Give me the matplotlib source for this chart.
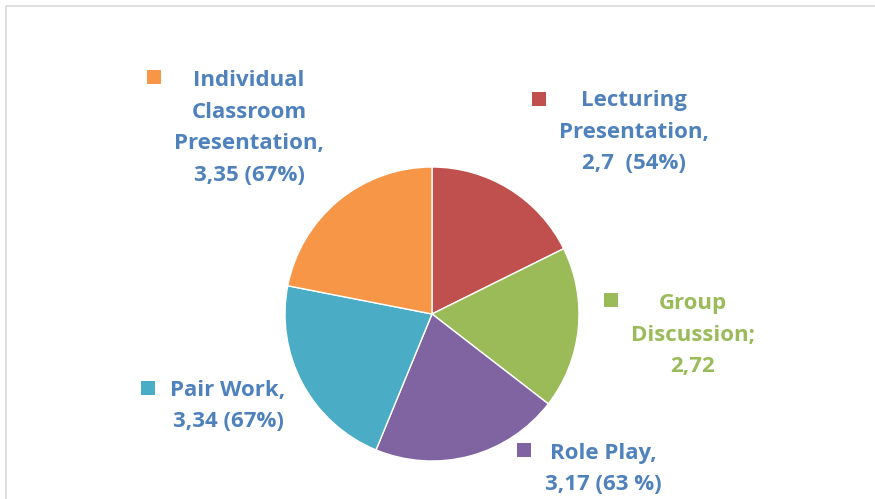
import matplotlib
matplotlib.use("Agg")
import matplotlib.pyplot as plt
from matplotlib.patches import Rectangle

categories = ["Lecturing Presentation", "Group Discussion", "Role Play",
              "Pair Work", "Individual Classroom Presentation"]
values = [2.70, 2.72, 3.17, 3.34, 3.35]
colors = ["#C0504D", "#9BBB59", "#8064A2", "#4BACC6", "#F79646"]
label_texts = [
    "Lecturing\nPresentation,\n2,7  (54%)",
    "Group\nDiscussion;\n2,72",
    "Role Play,\n3,17 (63 %)",
    "Pair Work,\n3,34 (67%)",
    "Individual\nClassroom\nPresentation,\n3,35 (67%)",
]
label_colors = ["#4F81BD", "#9BBB59", "#4F81BD", "#4F81BD", "#4F81BD"]

W, H = 875, 499
fig = plt.figure(figsize=(W / 100, H / 100), dpi=100)
ax = fig.add_axes([0, 0, 1, 1])
ax.set_xlim(0, W)
ax.set_ylim(0, H)
ax.set_aspect("equal")
ax.axis("off")

# chart border
ax.plot([5.5, 5.5, W], [0, H - 5.5, H - 5.5], color="#D9D9D9", lw=1.2)

cx, cy, r = 432, H - 314, 147
ax.pie(values, colors=colors, startangle=90, counterclock=False,
       center=(cx, cy), radius=r,
       wedgeprops=dict(edgecolor="white", linewidth=1.0), frame=True)
ax.set_xlim(0, W)
ax.set_ylim(0, H)
ax.axis("off")

# label layout (text center x, text center y (top-down px), marker x, marker y)
layout = [
    (634, 132, 539, 99),
    (693, 335, 611, 300),
    (603, 469, 524, 450),
    (228, 406, 148, 388),
    (249, 128, 154, 77),
]
for txt, tc, col, (tx, ty, mx, my) in zip(label_texts, label_colors, colors, layout):
    ax.text(tx, H - ty, txt, ha="center", va="center", color=tc,
            fontsize=16, fontweight="bold", family="Open Sans", linespacing=1.65)
    ax.add_patch(Rectangle((mx - 7, H - my - 7), 14, 14, color=col, lw=0))

fig.savefig("out.png", dpi=100)
